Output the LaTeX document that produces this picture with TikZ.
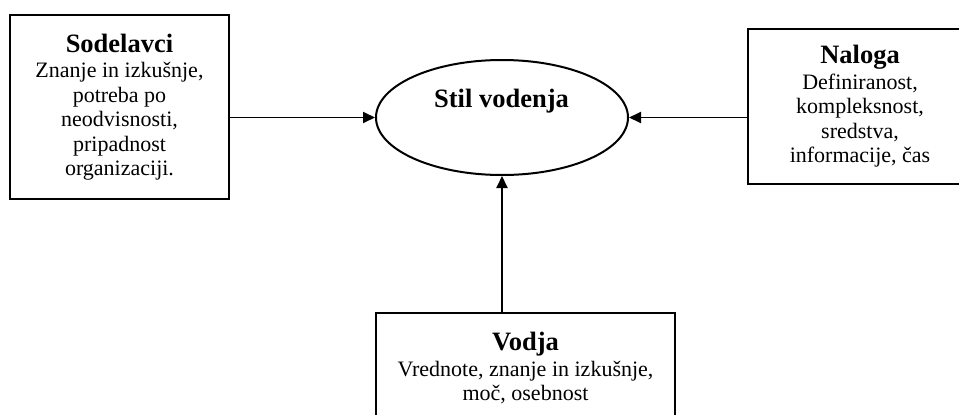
\documentclass[tikz,border=0pt]{standalone}
\usepackage{fontspec}
\setmainfont{Liberation Serif}
\usetikzlibrary{shapes.geometric,arrows.meta}
\newcommand{\hd}{\fontsize{26.5}{27}\selectfont\bfseries}
\begin{document}
\begin{tikzpicture}[x=1pt,y=-1pt,
  box/.style={draw, line width=2pt, rectangle, inner sep=0pt,
    align=center, font=\fontsize{22}{24.5}\selectfont},
  oval/.style={draw, line width=2pt, ellipse, inner sep=0pt},
  arr/.style={line width=1.9pt, -{Triangle[length=12pt,width=11pt]}}]
\useasboundingbox (0,0) rectangle (959,415);

% central style node
\node[oval, minimum width=252pt, minimum height=115pt] (ell) at (502,117.5) {};
\node[font=\hd, inner sep=0pt] (ellt) at (501.5,101) {Stil vodenja};

% followers (left)
\node[box, minimum width=219pt, minimum height=184pt] (sod) at (119.5,107)
  {{\hd Sodelavci}\\[1pt] Znanje in izkušnje,\\ potreba po\\ neodvisnosti,\\ pripadnost\\ organizaciji.};

% task (right)
\node[box, minimum width=224pt, minimum height=155pt] (nal) at (860,106.5)
  {{\hd Naloga}\\[1pt] Definiranost,\\ kompleksnost,\\ sredstva,\\ informacije, čas};

% leader (bottom)
\node[box, minimum width=299pt, minimum height=110pt] (vod) at (525.5,368)
  {{\hd Vodja}\\[1pt] Vrednote, znanje in izkušnje,\\ moč, osebnost};

% influences on the leadership style
\draw[arr] (sod.east |- ell.west) -- (ell.west);
\draw[arr] (nal.west |- ell.east) -- (ell.east);
\draw[arr] (vod.north -| ell.south) -- (ell.south);
\end{tikzpicture}
\end{document}
